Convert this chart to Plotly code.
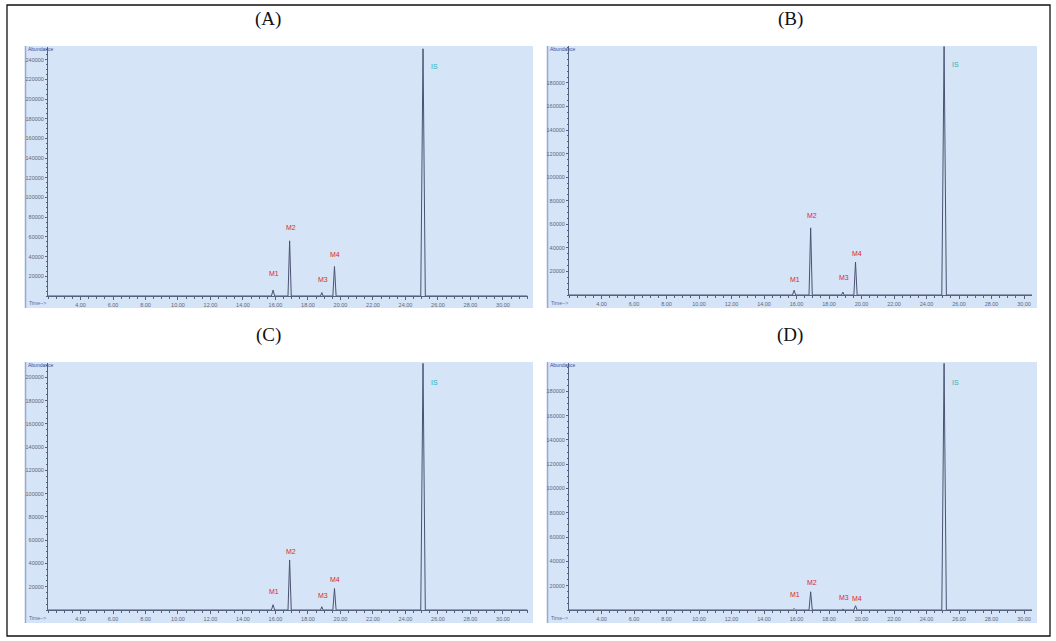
import plotly.graph_objects as go

W, H = 1056, 641

# ---------------- data ----------------
peak_labels = ["M1", "M2", "M3", "M4"]
peak_times = [15.85, 16.87, 18.85, 19.63]
is_time = 25.08

time_A = [2.0, 15.75, 15.85, 15.95, 16.77, 16.87, 16.97, 18.77, 18.85, 18.93, 19.53, 19.63, 19.73, 24.94, 25.08, 25.22, 31.5]
abund_A = [0, 0, 6000, 0, 0, 56000, 0, 0, 3500, 0, 0, 30000, 0, 0, 251000, 0, 0]
heights_A = [6000, 56000, 3500, 30000]

time_B = [2.0, 15.75, 15.85, 15.95, 16.77, 16.87, 16.97, 18.77, 18.85, 18.93, 19.53, 19.63, 19.73, 24.94, 25.08, 25.22, 30.5]
abund_B = [0, 0, 4000, 0, 0, 57000, 0, 0, 2500, 0, 0, 28000, 0, 0, 211000, 0, 0]
heights_B = [4000, 57000, 2500, 28000]

time_C = [2.0, 15.75, 15.85, 15.95, 16.77, 16.87, 16.97, 18.77, 18.85, 18.93, 19.53, 19.63, 19.73, 24.94, 25.08, 25.22, 31.5]
abund_C = [0, 0, 4500, 0, 0, 43000, 0, 0, 2800, 0, 0, 18500, 0, 0, 212000, 0, 0]
heights_C = [4500, 43000, 2800, 18500]

time_D = [2.0, 15.75, 15.85, 15.95, 16.77, 16.87, 16.97, 18.77, 18.85, 18.93, 19.53, 19.63, 19.73, 24.94, 25.08, 25.22, 30.5]
abund_D = [0, 0, 1200, 0, 0, 15000, 0, 0, 700, 0, 0, 3500, 0, 0, 203000, 0, 0]
heights_D = [1200, 15000, 700, 3500]

x_tick_vals = [4, 6, 8, 10, 12, 14, 16, 18, 20, 22, 24, 26, 28, 30]
x_tick_text = ["4.00", "6.00", "8.00", "10.00", "12.00", "14.00", "16.00", "18.00",
               "20.00", "22.00", "24.00", "26.00", "28.00", "30.00"]
y_ticks_A = [20000, 40000, 60000, 80000, 100000, 120000, 140000, 160000,
             180000, 200000, 220000, 240000]
y_ticks_B = [20000, 40000, 60000, 80000, 100000, 120000, 140000, 160000, 180000]
y_ticks_C = [20000, 40000, 60000, 80000, 100000, 120000, 140000, 160000, 180000, 200000]
y_ticks_D = [20000, 40000, 60000, 80000, 100000, 120000, 140000, 160000, 180000]

# ---------------- layout (pixel geometry) ----------------
def px(x):
    return x / W

def py(y):
    return 1 - y / H

panels = [
    dict(title="(A)", title_xy=(268, 19), bg=(25, 46, 533, 308), ax_x=(48, 528), ax_y=(296, 47),
         xmax=31.54, ymax=252800, t=time_A, a=abund_A, h=heights_A, yt=y_ticks_A, ysh=[17, 13, 13, 12]),
    dict(title="(B)", title_xy=(790, 19), bg=(547, 46, 1037, 308), ax_x=(569, 1032), ax_y=(295, 46),
         xmax=30.49, ymax=211400, t=time_B, a=abund_B, h=heights_B, yt=y_ticks_B, ysh=[11, 12, 15, 9]),
    dict(title="(C)", title_xy=(268, 335), bg=(25, 362, 533, 623), ax_x=(48, 528), ax_y=(610, 363),
         xmax=31.54, ymax=212300, t=time_C, a=abund_C, h=heights_C, yt=y_ticks_C, ysh=[13, 8, 11, 9]),
    dict(title="(D)", title_xy=(790, 335), bg=(547, 362, 1037, 623), ax_x=(569, 1032), ax_y=(610, 363),
         xmax=30.49, ymax=203300, t=time_D, a=abund_D, h=heights_D, yt=y_ticks_D, ysh=[14, 9, 12, 7]),
]

BG = "#d5e4f7"
LINE = "#4a5270"
AXIS = "#56617e"
TICKFONT = dict(family="Liberation Sans, Arial, sans-serif", size=5.5, color="#62667a")

fig = go.Figure()
shapes = []
annotations = []
layout_axes = {}

for i, p in enumerate(panels, start=1):
    xa = "x" if i == 1 else f"x{i}"
    ya = "y" if i == 1 else f"y{i}"
    xkey = "xaxis" if i == 1 else f"xaxis{i}"
    ykey = "yaxis" if i == 1 else f"yaxis{i}"

    fig.add_trace(go.Scatter(x=p["t"], y=p["a"], mode="lines", xaxis=xa, yaxis=ya,
                             line=dict(color=LINE, width=1), showlegend=False,
                             hoverinfo="skip"))

    layout_axes[xkey] = dict(
        domain=[px(p["ax_x"][0]), px(p["ax_x"][1])], range=[2.0, p["xmax"]],
        anchor=ya, showgrid=False, zeroline=False, showline=True, linecolor=AXIS, linewidth=1,
        ticks="outside", ticklen=3, tickcolor=AXIS, tickwidth=1,
        tickvals=x_tick_vals, ticktext=x_tick_text, tickfont=TICKFONT,
        minor=dict(ticks="outside", ticklen=2, tickcolor=AXIS, dtick=0.5, tick0=0, showgrid=False),
    )
    layout_axes[ykey] = dict(
        domain=[py(p["ax_y"][0]), py(p["ax_y"][1])], range=[0, p["ymax"]],
        anchor=xa, showgrid=False, zeroline=False, showline=True, linecolor=AXIS, linewidth=1,
        ticks="outside", ticklen=2, tickcolor=AXIS, tickwidth=1,
        tickvals=p["yt"], tickfont=TICKFONT, tickformat="d",
        minor=dict(ticks="outside", ticklen=1, tickcolor=AXIS, dtick=5000, showgrid=False),
    )

    x0, y0, x1, y1 = p["bg"]
    shapes.append(dict(type="rect", xref="paper", yref="paper", x0=px(x0), x1=px(x1),
                       y0=py(y1), y1=py(y0), fillcolor=BG, line=dict(width=0), layer="below"))
    shapes.append(dict(type="line", xref="paper", yref="paper", x0=px(x0 + 0.5), x1=px(x0 + 0.5),
                       y0=py(y1), y1=py(y0), line=dict(color="#95a9d4", width=1.5), layer="below"))

    # panel title
    annotations.append(dict(text=p["title"], xref="paper", yref="paper",
                            x=px(p["title_xy"][0]), y=py(p["title_xy"][1]),
                            showarrow=False, xanchor="center", yanchor="middle",
                            font=dict(family="Liberation Serif, DejaVu Serif, serif", size=19, color="#111")))
    # Abundance / Time labels
    annotations.append(dict(text="Abundance", xref="paper", yref="paper", x=px(x0 + 1), y=py(y0 + 3),
                            showarrow=False, xanchor="left", yanchor="middle",
                            font=dict(family="Liberation Sans, Arial", size=5, color="#3a4aa0")))
    annotations.append(dict(text="Time-->", xref="paper", yref="paper", x=px(x0 + 2), y=py(y1 - 5),
                            showarrow=False, xanchor="left", yanchor="middle",
                            font=dict(family="Liberation Sans, Arial", size=5, color="#5a66a0")))

    # peak labels
    for lab, t, hgt, ys in zip(peak_labels, peak_times, p["h"], p["ysh"]):
        annotations.append(dict(text=lab, xref=xa, yref=ya, x=t, y=hgt, xshift=1, yshift=ys,
                                showarrow=False, xanchor="center", yanchor="middle",
                                font=dict(family="Liberation Sans, Arial", size=7, color="#e0262f")))
    annotations.append(dict(text="IS", xref=xa, yref=f"{ya} domain", x=is_time, y=1, xshift=11,
                            yshift=-19, showarrow=False, xanchor="center", yanchor="middle",
                            font=dict(family="Liberation Sans, Arial", size=7, color="#2fb3b0")))

# outer border
shapes.append(dict(type="rect", xref="paper", yref="paper", x0=px(7), x1=px(1050),
                   y0=py(636), y1=py(5), line=dict(color="#111", width=1.3), fillcolor="rgba(0,0,0,0)"))

fig.update_layout(width=W, height=H, margin=dict(l=0, r=0, t=0, b=0),
                  paper_bgcolor="white", plot_bgcolor="rgba(0,0,0,0)",
                  shapes=shapes, annotations=annotations, showlegend=False, **layout_axes)

fig.write_html("out.html")
